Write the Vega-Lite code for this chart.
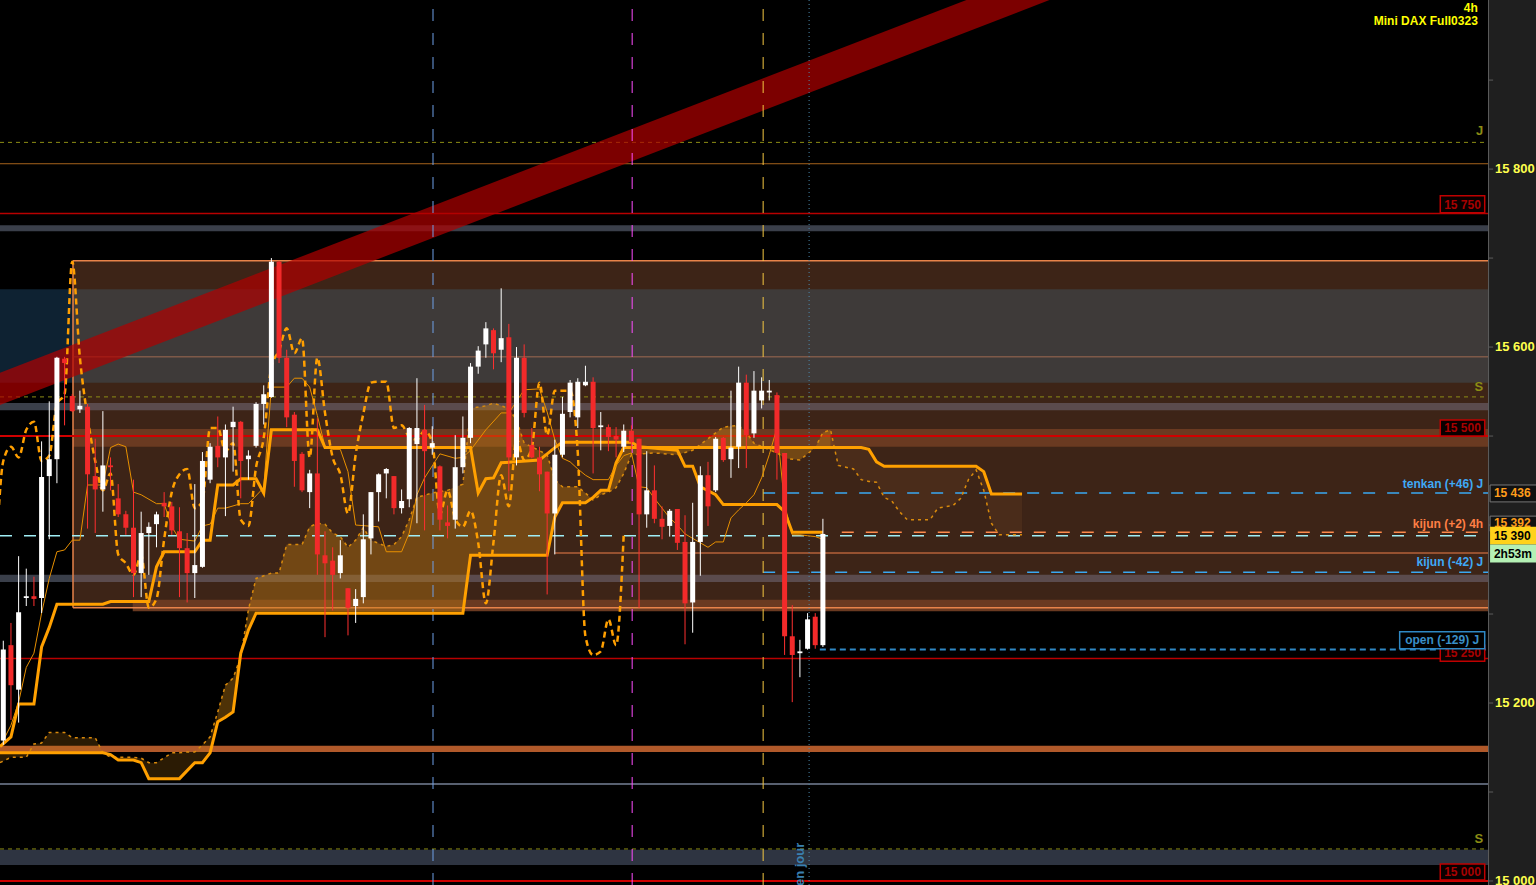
{
"$schema":"https://vega.github.io/schema/vega-lite/v6.json",
"width":1488,"height":885,"autosize":"none",
"padding":{"left":0,"top":0,"right":48,"bottom":0},
"background":"#1f1f1f",
"config":{"view":{"stroke":null,"fill":"#000000"},"font":"Liberation Sans"},
"datasets":{
"candles":[
{"i":0,"o":15158,"h":15270,"l":15153,"c":15260},
{"i":1,"o":15265,"h":15290,"l":15181,"c":15220},
{"i":2,"o":15215,"h":15365,"l":15178,"c":15302},
{"i":3,"o":15318,"h":15351,"l":15309,"c":15320},
{"i":4,"o":15320,"h":15342,"l":15309,"c":15317},
{"i":5,"o":15318,"h":15494,"l":15301,"c":15454},
{"i":6,"o":15455,"h":15539,"l":15384,"c":15474},
{"i":7,"o":15474,"h":15589,"l":15447,"c":15588},
{"i":8,"o":15587,"h":15589,"l":15512,"c":15582},
{"i":9,"o":15545,"h":15547,"l":15527,"c":15528},
{"i":10,"o":15530,"h":15551,"l":15526,"c":15534},
{"i":11,"o":15533,"h":15536,"l":15396,"c":15457},
{"i":12,"o":15455,"h":15497,"l":15391,"c":15440},
{"i":13,"o":15440,"h":15528,"l":15415,"c":15467},
{"i":14,"o":15467,"h":15476,"l":15439,"c":15465},
{"i":15,"o":15430,"h":15446,"l":15409,"c":15412},
{"i":16,"o":15412,"h":15416,"l":15389,"c":15397},
{"i":17,"o":15397,"h":15451,"l":15319,"c":15346},
{"i":18,"o":15346,"h":15415,"l":15319,"c":15391},
{"i":19,"o":15391,"h":15403,"l":15344,"c":15398},
{"i":20,"o":15401,"h":15415,"l":15375,"c":15412},
{"i":21,"o":15425,"h":15437,"l":15409,"c":15421},
{"i":22,"o":15421,"h":15426,"l":15389,"c":15394},
{"i":23,"o":15393,"h":15420,"l":15319,"c":15374},
{"i":24,"o":15374,"h":15391,"l":15313,"c":15346},
{"i":25,"o":15346,"h":15446,"l":15318,"c":15355},
{"i":26,"o":15353,"h":15482,"l":15352,"c":15472},
{"i":27,"o":15451,"h":15492,"l":15447,"c":15488},
{"i":28,"o":15489,"h":15522,"l":15465,"c":15476},
{"i":29,"o":15476,"h":15513,"l":15410,"c":15507},
{"i":30,"o":15510,"h":15533,"l":15460,"c":15516},
{"i":31,"o":15516,"h":15517,"l":15430,"c":15472},
{"i":32,"o":15474,"h":15484,"l":15451,"c":15478},
{"i":33,"o":15489,"h":15538,"l":15487,"c":15536},
{"i":34,"o":15536,"h":15557,"l":15513,"c":15547},
{"i":35,"o":15544,"h":15700,"l":15543,"c":15696},
{"i":36,"o":15696,"h":15697,"l":15582,"c":15588},
{"i":37,"o":15588,"h":15597,"l":15510,"c":15521},
{"i":38,"o":15524,"h":15527,"l":15443,"c":15472},
{"i":39,"o":15480,"h":15482,"l":15437,"c":15439},
{"i":40,"o":15437,"h":15462,"l":15419,"c":15458},
{"i":41,"o":15458,"h":15520,"l":15344,"c":15367},
{"i":42,"o":15366,"h":15393,"l":15274,"c":15357},
{"i":43,"o":15360,"h":15375,"l":15304,"c":15344},
{"i":44,"o":15346,"h":15383,"l":15340,"c":15366},
{"i":45,"o":15329,"h":15329,"l":15276,"c":15307},
{"i":46,"o":15309,"h":15328,"l":15290,"c":15317},
{"i":47,"o":15319,"h":15412,"l":15312,"c":15384},
{"i":48,"o":15385,"h":15437,"l":15367,"c":15437},
{"i":49,"o":15437,"h":15458,"l":15404,"c":15457},
{"i":50,"o":15458,"h":15464,"l":15430,"c":15463},
{"i":51,"o":15455,"h":15455,"l":15412,"c":15419},
{"i":52,"o":15419,"h":15440,"l":15413,"c":15427},
{"i":53,"o":15429,"h":15510,"l":15420,"c":15509},
{"i":54,"o":15491,"h":15565,"l":15402,"c":15509},
{"i":55,"o":15507,"h":15535,"l":15394,"c":15483},
{"i":56,"o":15487,"h":15511,"l":15479,"c":15492},
{"i":57,"o":15466,"h":15467,"l":15394,"c":15406},
{"i":58,"o":15403,"h":15422,"l":15385,"c":15399},
{"i":59,"o":15406,"h":15501,"l":15396,"c":15465},
{"i":60,"o":15465,"h":15522,"l":15458,"c":15498},
{"i":61,"o":15498,"h":15582,"l":15492,"c":15578},
{"i":62,"o":15578,"h":15601,"l":15570,"c":15596},
{"i":63,"o":15603,"h":15628,"l":15588,"c":15621},
{"i":64,"o":15619,"h":15621,"l":15575,"c":15593},
{"i":65,"o":15597,"h":15666,"l":15583,"c":15610},
{"i":66,"o":15611,"h":15626,"l":15438,"c":15476},
{"i":67,"o":15476,"h":15600,"l":15467,"c":15588},
{"i":68,"o":15588,"h":15603,"l":15521,"c":15526},
{"i":69,"o":15490,"h":15509,"l":15475,"c":15476},
{"i":70,"o":15476,"h":15488,"l":15438,"c":15457},
{"i":71,"o":15460,"h":15460,"l":15322,"c":15413},
{"i":72,"o":15413,"h":15496,"l":15367,"c":15479},
{"i":73,"o":15479,"h":15544,"l":15476,"c":15525},
{"i":74,"o":15527,"h":15563,"l":15521,"c":15560},
{"i":75,"o":15521,"h":15565,"l":15509,"c":15561},
{"i":76,"o":15557,"h":15579,"l":15556,"c":15561},
{"i":77,"o":15561,"h":15566,"l":15458,"c":15509},
{"i":78,"o":15510,"h":15527,"l":15484,"c":15512},
{"i":79,"o":15510,"h":15513,"l":15483,"c":15499},
{"i":80,"o":15500,"h":15510,"l":15476,"c":15496},
{"i":81,"o":15488,"h":15513,"l":15482,"c":15506},
{"i":82,"o":15506,"h":15512,"l":15484,"c":15493},
{"i":83,"o":15497,"h":15497,"l":15307,"c":15412},
{"i":84,"o":15412,"h":15483,"l":15397,"c":15439},
{"i":85,"o":15439,"h":15467,"l":15402,"c":15407},
{"i":86,"o":15407,"h":15421,"l":15384,"c":15398},
{"i":87,"o":15399,"h":15418,"l":15387,"c":15416},
{"i":88,"o":15418,"h":15418,"l":15372,"c":15380},
{"i":89,"o":15381,"h":15411,"l":15266,"c":15312},
{"i":90,"o":15313,"h":15425,"l":15279,"c":15381},
{"i":91,"o":15381,"h":15466,"l":15343,"c":15456},
{"i":92,"o":15456,"h":15471,"l":15399,"c":15421},
{"i":93,"o":15439,"h":15499,"l":15437,"c":15497},
{"i":94,"o":15498,"h":15499,"l":15471,"c":15473},
{"i":95,"o":15474,"h":15551,"l":15453,"c":15487},
{"i":96,"o":15488,"h":15578,"l":15464,"c":15560},
{"i":97,"o":15560,"h":15569,"l":15464,"c":15501},
{"i":98,"o":15503,"h":15573,"l":15498,"c":15551},
{"i":99,"o":15540,"h":15566,"l":15531,"c":15551},
{"i":100,"o":15549,"h":15563,"l":15540,"c":15551},
{"i":101,"o":15546,"h":15549,"l":15451,"c":15481},
{"i":102,"o":15481,"h":15481,"l":15254,"c":15275},
{"i":103,"o":15275,"h":15310,"l":15201,"c":15254},
{"i":104,"o":15256,"h":15271,"l":15229,"c":15258},
{"i":105,"o":15261,"h":15301,"l":15260,"c":15294},
{"i":106,"o":15297,"h":15301,"l":15261,"c":15265},
{"i":107,"o":15265,"h":15407,"l":15263,"c":15390}
],
"kijun":[
{"i":-0.43,"p":15151},{"i":1,"p":15162},{"i":2,"p":15199},{"i":4,"p":15199},{"i":5,"p":15263},{"i":6,"p":15285},{"i":7,"p":15311},{"i":13,"p":15311},{"i":14,"p":15314},{"i":19,"p":15314},{"i":20,"p":15353},{"i":21,"p":15370},{"i":25,"p":15370},{"i":26,"p":15383},{"i":27,"p":15383},{"i":28,"p":15445},{"i":30,"p":15445},{"i":31,"p":15452},{"i":33,"p":15452},{"i":34,"p":15436},{"i":35,"p":15507},{"i":41,"p":15507},{"i":42,"p":15487},{"i":61,"p":15487},{"i":62,"p":15436},{"i":63,"p":15452},{"i":64,"p":15453},{"i":65,"p":15470},{"i":70,"p":15473},{"i":72,"p":15487},{"i":73,"p":15493},{"i":82,"p":15493},{"i":83,"p":15488},{"i":88,"p":15484},{"i":89,"p":15466},{"i":90,"p":15466},{"i":91,"p":15443},{"i":93,"p":15434},{"i":94,"p":15423},{"i":101,"p":15423},{"i":102,"p":15415},{"i":103,"p":15392},{"i":107,"p":15392}
],
"tenkan":[
{"i":0,"p":15158},{"i":1,"p":15175},{"i":2,"p":15201},{"i":3,"p":15240},{"i":4,"p":15256},{"i":5,"p":15301},{"i":6,"p":15340},{"i":7,"p":15370},{"i":8,"p":15372},{"i":9,"p":15383},{"i":10,"p":15383},{"i":11,"p":15445},{"i":13,"p":15445},{"i":14,"p":15487},{"i":15,"p":15491},{"i":16,"p":15488},{"i":17,"p":15437},{"i":18,"p":15434},{"i":20,"p":15424},{"i":21,"p":15424},{"i":22,"p":15398},{"i":23,"p":15384},{"i":25,"p":15382},{"i":26,"p":15399},{"i":27,"p":15401},{"i":28,"p":15419},{"i":29,"p":15419},{"i":31,"p":15424},{"i":32,"p":15424},{"i":34,"p":15442},{"i":35,"p":15555},{"i":37,"p":15555},{"i":38,"p":15565},{"i":39,"p":15565},{"i":40,"p":15555},{"i":41,"p":15523},{"i":42,"p":15488},{"i":43,"p":15485},{"i":44,"p":15485},{"i":45,"p":15460},{"i":46,"p":15400},{"i":49,"p":15398},{"i":50,"p":15370},{"i":52,"p":15370},{"i":53,"p":15391},{"i":54,"p":15434},{"i":55,"p":15453},{"i":57,"p":15480},{"i":59,"p":15475},{"i":60,"p":15476},{"i":61,"p":15484},{"i":63,"p":15507},{"i":65,"p":15526},{"i":66,"p":15526},{"i":68,"p":15552},{"i":70,"p":15553},{"i":71,"p":15527},{"i":72,"p":15496},{"i":73,"p":15475},{"i":74,"p":15471},{"i":75,"p":15463},{"i":76,"p":15456},{"i":77,"p":15451},{"i":79,"p":15451},{"i":80,"p":15467},{"i":81,"p":15478},{"i":82,"p":15481},{"i":83,"p":15443},{"i":84,"p":15442},{"i":85,"p":15430},{"i":86,"p":15419},{"i":87,"p":15408},{"i":88,"p":15400},{"i":89,"p":15390},{"i":90,"p":15385},{"i":91,"p":15380},{"i":92,"p":15375},{"i":93,"p":15381},{"i":94,"p":15381},{"i":95,"p":15408},{"i":96,"p":15417},{"i":97,"p":15425},{"i":98,"p":15434},{"i":99,"p":15453},{"i":100,"p":15479},{"i":101,"p":15509},{"i":102,"p":15423},{"i":103,"p":15389},{"i":104,"p":15389},{"i":105,"p":15388},{"i":106,"p":15387},{"i":107,"p":15384}
],
"cloud":[
{"i":-0.43,"p":15133,"p2":15144},{"i":1,"p":15139,"p2":15144},{"i":3,"p":15139,"p2":15144},{"i":4,"p":15154,"p2":15144},{"i":5,"p":15155,"p2":15144},{"i":6,"p":15167,"p2":15144},{"i":8,"p":15167,"p2":15144},{"i":9,"p":15161,"p2":15144},{"i":12,"p":15161,"p2":15144},{"i":13,"p":15144,"p2":15144},{"i":14,"p":15139,"p2":15142},{"i":15,"p":15139,"p2":15136},{"i":17,"p":15139,"p2":15136},{"i":18,"p":15138,"p2":15133},{"i":19,"p":15133,"p2":15115},{"i":20,"p":15133,"p2":15115},{"i":22,"p":15144,"p2":15115},{"i":23,"p":15144,"p2":15115},{"i":24,"p":15145,"p2":15124},{"i":25,"p":15145,"p2":15133},{"i":26,"p":15153,"p2":15133},{"i":27,"p":15162,"p2":15144},{"i":28,"p":15190,"p2":15179},{"i":29,"p":15220,"p2":15184},{"i":30,"p":15228,"p2":15190},{"i":31,"p":15252,"p2":15256},{"i":32,"p":15305,"p2":15282},{"i":33,"p":15340,"p2":15301},{"i":35,"p":15346,"p2":15301},{"i":36,"p":15346,"p2":15301},{"i":37,"p":15378,"p2":15301},{"i":39,"p":15378,"p2":15301},{"i":40,"p":15398,"p2":15301},{"i":41,"p":15402,"p2":15301},{"i":42,"p":15401,"p2":15301},{"i":43,"p":15391,"p2":15301},{"i":44,"p":15387,"p2":15301},{"i":45,"p":15375,"p2":15301},{"i":46,"p":15383,"p2":15301},{"i":47,"p":15397,"p2":15301},{"i":48,"p":15383,"p2":15301},{"i":50,"p":15376,"p2":15301},{"i":51,"p":15378,"p2":15301},{"i":52,"p":15387,"p2":15301},{"i":53,"p":15406,"p2":15301},{"i":54,"p":15431,"p2":15301},{"i":56,"p":15436,"p2":15301},{"i":58,"p":15439,"p2":15301},{"i":60,"p":15446,"p2":15301},{"i":61,"p":15531,"p2":15366},{"i":63,"p":15534,"p2":15366},{"i":64,"p":15537,"p2":15366},{"i":66,"p":15531,"p2":15366},{"i":67,"p":15518,"p2":15366},{"i":68,"p":15492,"p2":15366},{"i":69,"p":15488,"p2":15366},{"i":71,"p":15479,"p2":15366},{"i":72,"p":15451,"p2":15409},{"i":73,"p":15443,"p2":15425},{"i":75,"p":15443,"p2":15425},{"i":76,"p":15436,"p2":15425},{"i":77,"p":15428,"p2":15431},{"i":78,"p":15434,"p2":15439},{"i":79,"p":15437,"p2":15439},{"i":80,"p":15442,"p2":15470},{"i":81,"p":15458,"p2":15487},{"i":82,"p":15479,"p2":15487},{"i":85,"p":15481,"p2":15487},{"i":88,"p":15479,"p2":15487},{"i":90,"p":15484,"p2":15487},{"i":94,"p":15510,"p2":15487},{"i":96,"p":15512,"p2":15487},{"i":97,"p":15504,"p2":15487},{"i":98,"p":15492,"p2":15487},{"i":101,"p":15481,"p2":15487},{"i":102,"p":15475,"p2":15487},{"i":104,"p":15473,"p2":15487},{"i":106,"p":15487,"p2":15487},{"i":107,"p":15504,"p2":15487},{"i":108,"p":15507,"p2":15487},{"i":109,"p":15467,"p2":15487},{"i":110,"p":15465,"p2":15487},{"i":111,"p":15463,"p2":15487},{"i":112,"p":15451,"p2":15487},{"i":113,"p":15449,"p2":15485},{"i":114,"p":15448,"p2":15471},{"i":115,"p":15431,"p2":15466},{"i":116,"p":15427,"p2":15466},{"i":117,"p":15415,"p2":15466},{"i":118,"p":15406,"p2":15466},{"i":121,"p":15406,"p2":15466},{"i":122,"p":15419,"p2":15466},{"i":124,"p":15422,"p2":15466},{"i":125,"p":15430,"p2":15466},{"i":126,"p":15451,"p2":15466},{"i":127,"p":15462,"p2":15466},{"i":128,"p":15439,"p2":15460},{"i":129,"p":15402,"p2":15435},{"i":130,"p":15389,"p2":15435},{"i":133,"p":15389,"p2":15435}
],
"chikou":[
{"i":-1,"p":15355},{"i":0,"p":15472},{"i":1,"p":15488},{"i":2,"p":15476},{"i":3,"p":15507},{"i":4,"p":15516},{"i":5,"p":15472},{"i":6,"p":15478},{"i":7,"p":15536},{"i":8,"p":15547},{"i":9,"p":15696},{"i":10,"p":15588},{"i":11,"p":15521},{"i":12,"p":15472},{"i":13,"p":15439},{"i":14,"p":15458},{"i":15,"p":15367},{"i":16,"p":15357},{"i":17,"p":15344},{"i":18,"p":15366},{"i":19,"p":15307},{"i":20,"p":15317},{"i":21,"p":15384},{"i":22,"p":15437},{"i":23,"p":15457},{"i":24,"p":15463},{"i":25,"p":15419},{"i":26,"p":15427},{"i":27,"p":15509},{"i":28,"p":15509},{"i":29,"p":15483},{"i":30,"p":15492},{"i":31,"p":15406},{"i":32,"p":15399},{"i":33,"p":15465},{"i":34,"p":15498},{"i":35,"p":15578},{"i":36,"p":15596},{"i":37,"p":15621},{"i":38,"p":15593},{"i":39,"p":15610},{"i":40,"p":15476},{"i":41,"p":15588},{"i":42,"p":15526},{"i":43,"p":15476},{"i":44,"p":15457},{"i":45,"p":15413},{"i":46,"p":15479},{"i":47,"p":15525},{"i":48,"p":15560},{"i":49,"p":15561},{"i":50,"p":15561},{"i":51,"p":15509},{"i":52,"p":15512},{"i":53,"p":15499},{"i":54,"p":15496},{"i":55,"p":15506},{"i":56,"p":15493},{"i":57,"p":15412},{"i":58,"p":15439},{"i":59,"p":15407},{"i":60,"p":15398},{"i":61,"p":15416},{"i":62,"p":15380},{"i":63,"p":15312},{"i":64,"p":15381},{"i":65,"p":15456},{"i":66,"p":15421},{"i":67,"p":15497},{"i":68,"p":15473},{"i":69,"p":15487},{"i":70,"p":15560},{"i":71,"p":15501},{"i":72,"p":15551},{"i":73,"p":15551},{"i":74,"p":15551},{"i":75,"p":15481},{"i":76,"p":15275},{"i":77,"p":15254},{"i":78,"p":15258},{"i":79,"p":15294},{"i":80,"p":15265},{"i":81,"p":15390}
],
"ticks":[
{"i":193.83,"i2":194.5,"p":15000},{"i":193.83,"i2":194.5,"p":15100},{"i":193.83,"i2":194.5,"p":15200},{"i":193.83,"i2":194.5,"p":15300},{"i":193.83,"i2":194.5,"p":15400},{"i":193.83,"i2":194.5,"p":15500},{"i":193.83,"i2":194.5,"p":15600},{"i":193.83,"i2":194.5,"p":15700},{"i":193.83,"i2":194.5,"p":15800},{"i":193.83,"i2":194.5,"p":15900}
],
"ticklabels":[
{"i":194.75,"p":15000,"t":"15 000"},{"i":194.75,"p":15200,"t":"15 200"},{"i":194.75,"p":15600,"t":"15 600"},{"i":194.75,"p":15800,"t":"15 800"}
]
},
"encoding":{
"x":{"field":"i","type":"quantitative","scale":{"domain":[-0.43,193.83],"nice":false,"zero":false,"padding":0},"axis":null},
"y":{"field":"p","type":"quantitative","scale":{"domain":[14995.5,15990],"nice":false,"zero":false},"axis":null}
},
"layer":[
{"data":{"values":[{"i":9.1,"i2":193.83,"p":15307,"p2":15697}]},"mark":{"type":"rect","color":"#3d2417"},"encoding":{"x2":{"field":"i2"},"y2":{"field":"p2"}}},
{"data":{"values":[{"i":9.1,"i2":193.83,"p":15488,"p2":15508},{"i":16.9,"i2":193.83,"p":15303,"p2":15316}]},"mark":{"type":"rect","color":"#6a3a21"},"encoding":{"x2":{"field":"i2"},"y2":{"field":"p2"}}},
{"data":{"values":[{"i":-0.43,"i2":9.1,"p":15560,"p2":15665}]},"mark":{"type":"rect","color":"#0e2232"},"encoding":{"x2":{"field":"i2"},"y2":{"field":"p2"}}},
{"data":{"values":[{"i":9.1,"i2":193.83,"p":15560,"p2":15665}]},"mark":{"type":"rect","color":"#3e3a39"},"encoding":{"x2":{"field":"i2"},"y2":{"field":"p2"}}},
{"data":{"values":[{"i":-0.43,"i2":9.1,"p":15529,"p2":15537},{"i":-0.43,"i2":9.1,"p":15336,"p2":15344},{"i":-0.43,"i2":193.83,"p":15730,"p2":15737}]},"mark":{"type":"rect","color":"#3a3f4a"},"encoding":{"x2":{"field":"i2"},"y2":{"field":"p2"}}},
{"data":{"values":[{"i":9.1,"i2":193.83,"p":15529,"p2":15537},{"i":9.1,"i2":193.83,"p":15336,"p2":15344}]},"mark":{"type":"rect","color":"#5b4b4d"},"encoding":{"x2":{"field":"i2"},"y2":{"field":"p2"}}},
{"data":{"values":[{"i":-0.43,"i2":193.83,"p":15018,"p2":15035}]},"mark":{"type":"rect","color":"#2e3441"},"encoding":{"x2":{"field":"i2"},"y2":{"field":"p2"}}},
{"data":{"values":[{"i":-0.43,"i2":193.83,"p":15145,"p2":15152}]},"mark":{"type":"rect","color":"#b0592a"},"encoding":{"x2":{"field":"i2"},"y2":{"field":"p2"}}},
{"data":{"values":[{"i":9.1,"i2":193.83,"p":15697},{"i":9.1,"i2":193.83,"p":15307}]},"mark":{"type":"rule","color":"#e8834a","strokeWidth":1.5},"encoding":{"x2":{"field":"i2"}}},
{"data":{"values":[{"i":9.1,"p":15307,"p2":15697}]},"mark":{"type":"rule","color":"#e8834a","strokeWidth":1.5},"encoding":{"y2":{"field":"p2"}}},
{"data":{"values":[{"i":-0.43,"i2":193.83,"p":15830},{"i":-0.43,"i2":193.83,"p":15544},{"i":-0.43,"i2":193.83,"p":15036}]},"mark":{"type":"rule","color":"#8c8c14","strokeWidth":1,"strokeDash":[4,4]},"encoding":{"x2":{"field":"i2"}}},
{"data":{"values":[{"i":-0.43,"i2":193.83,"p":15806}]},"mark":{"type":"rule","color":"#a5621c","strokeWidth":1},"encoding":{"x2":{"field":"i2"}}},
{"data":{"values":[{"i":-0.43,"i2":193.83,"p":15750},{"i":-0.43,"i2":193.83,"p":15250}]},"mark":{"type":"rule","color":"#b80000","strokeWidth":1.5},"encoding":{"x2":{"field":"i2"}}},
{"data":{"values":[{"i":-0.43,"i2":193.83,"p":15500},{"i":-0.43,"i2":193.83,"p":15000}]},"mark":{"type":"rule","color":"#d00000","strokeWidth":2},"encoding":{"x2":{"field":"i2"}}},
{"data":{"values":[{"i":9.1,"i2":193.83,"p":15589}]},"mark":{"type":"rule","color":"#a06a52","strokeWidth":1},"encoding":{"x2":{"field":"i2"}}},
{"data":{"values":[{"i":72,"i2":193.83,"p":15368.5}]},"mark":{"type":"rule","color":"#b5603a","strokeWidth":1.5},"encoding":{"x2":{"field":"i2"}}},
{"data":{"values":[{"i":-0.43,"i2":193.83,"p":15109}]},"mark":{"type":"rule","color":"#586070","strokeWidth":2},"encoding":{"x2":{"field":"i2"}}},
{"data":{"name":"cloud"},"transform":[{"filter":"datum.i <= 28"}],"mark":{"type":"area","color":"#c27c12","opacity":0.22},"encoding":{"y2":{"field":"p2"}}},
{"data":{"name":"cloud"},"transform":[{"filter":"datum.i >= 28 && datum.i <= 108"}],"mark":{"type":"area","color":"#c27c12","opacity":0.4},"encoding":{"y2":{"field":"p2"}}},
{"data":{"name":"cloud"},"transform":[{"filter":"datum.i >= 108"}],"mark":{"type":"area","color":"#b06a30","opacity":0.12},"encoding":{"y2":{"field":"p2"}}},
{"data":{"values":[{"i":-0.43,"p":15571,"p2":15535},{"i":143.2,"p":16048,"p2":16012}]},"mark":{"type":"area","color":"#b00000","opacity":0.7,"clip":true},"encoding":{"y2":{"field":"p2"}}},
{"data":{"values":[{"i":-0.43,"i2":193.83,"p":15388}]},"mark":{"type":"rule","color":"#a0eef6","strokeWidth":1.5,"strokeDash":[12,12]},"encoding":{"x2":{"field":"i2"}}},
{"data":{"values":[{"i":99.2,"i2":193.83,"p":15436},{"i":99.2,"i2":193.83,"p":15347}]},"mark":{"type":"rule","color":"#3aa8f2","strokeWidth":1.5,"strokeDash":[12,12]},"encoding":{"x2":{"field":"i2"}}},
{"data":{"values":[{"i":107.9,"i2":193.83,"p":15392}]},"mark":{"type":"rule","color":"#ff8a4c","strokeWidth":1.5,"strokeDash":[12,12],"strokeDashOffset":12},"encoding":{"x2":{"field":"i2"}}},
{"data":{"values":[{"i":106.6,"i2":193.83,"p":15260}]},"mark":{"type":"rule","color":"#2f88c4","strokeWidth":2,"strokeDash":[6,4]},"encoding":{"x2":{"field":"i2"}}},
{"data":{"values":[{"i":56.1,"p":14995.5,"p2":15990}]},"mark":{"type":"rule","color":"#6fa0e8","strokeWidth":1,"strokeDash":[12,12]},"encoding":{"y2":{"field":"p2"}}},
{"data":{"values":[{"i":82.1,"p":14995.5,"p2":15990}]},"mark":{"type":"rule","color":"#ff4dff","strokeWidth":1,"strokeDash":[12,12]},"encoding":{"y2":{"field":"p2"}}},
{"data":{"values":[{"i":99.2,"p":14995.5,"p2":15990}]},"mark":{"type":"rule","color":"#f5c842","strokeWidth":1,"strokeDash":[12,12]},"encoding":{"y2":{"field":"p2"}}},
{"data":{"values":[{"i":105.2,"p":14995.5,"p2":15990}]},"mark":{"type":"rule","color":"#4a86aa","strokeWidth":1,"strokeDash":[1,3]},"encoding":{"y2":{"field":"p2"}}},
{"data":{"name":"cloud"},"mark":{"type":"line","color":"#d98a0c","strokeWidth":1.5,"strokeDash":[3,4],"clip":true},"encoding":{}},
{"data":{"name":"cloud"},"mark":{"type":"line","color":"#ffa000","strokeWidth":3,"clip":true},"encoding":{"y":{"field":"p2","type":"quantitative","scale":{"domain":[14995.5,15990],"nice":false,"zero":false},"axis":null}}},
{"data":{"name":"tenkan"},"mark":{"type":"line","color":"#e89000","strokeWidth":1,"clip":true},"encoding":{}},
{"data":{"name":"kijun"},"mark":{"type":"line","color":"#ffa000","strokeWidth":3,"clip":true},"encoding":{}},
{"data":{"name":"chikou"},"mark":{"type":"line","color":"#ff9f00","strokeWidth":2.5,"strokeDash":[6,4],"interpolate":"monotone","clip":true},"encoding":{}},
{"data":{"name":"candles"},"mark":{"type":"rule","strokeWidth":1},"encoding":{"y":{"field":"l","type":"quantitative","scale":{"domain":[14995.5,15990],"nice":false,"zero":false},"axis":null},"y2":{"field":"h"},"color":{"condition":{"test":"datum.c >= datum.o","value":"#ffffff"},"value":"#ff3030"}}},
{"data":{"name":"candles"},"mark":{"type":"bar","size":5},"encoding":{"y":{"field":"o","type":"quantitative","scale":{"domain":[14995.5,15990],"nice":false,"zero":false},"axis":null},"y2":{"field":"c"},"color":{"condition":{"test":"datum.c >= datum.o","value":"#ffffff"},"value":"#f22a2a"}}},
{"data":{"values":[{"i":193.9,"p":14995.5,"p2":15990}]},"mark":{"type":"rule","color":"#5c5c5c","strokeWidth":1},"encoding":{"y2":{"field":"p2"}}},
{"data":{"name":"ticks"},"mark":{"type":"rule","color":"#5c5c5c","strokeWidth":1},"encoding":{"x2":{"field":"i2"}}},
{"data":{"name":"ticklabels"},"mark":{"type":"text","align":"left","baseline":"middle","color":"#ffff4d","fontSize":13,"fontWeight":"bold"},"encoding":{"text":{"field":"t"}}},
{"data":{"values":[{"i":193.2,"p":15446,"t":"tenkan (+46) J"},{"i":193.2,"p":15358,"t":"kijun (-42) J"}]},"mark":{"type":"text","align":"right","baseline":"middle","color":"#3fa9f5","fontSize":12,"fontWeight":"bold"},"encoding":{"text":{"field":"t"}}},
{"data":{"values":[{"i":193.2,"p":15401,"t":"kijun (+2) 4h"}]},"mark":{"type":"text","align":"right","baseline":"middle","color":"#ff7f45","fontSize":12,"fontWeight":"bold"},"encoding":{"text":{"field":"t"}}},
{"data":{"values":[{"i":193.2,"p":15843,"t":"J"},{"i":193.2,"p":15555,"t":"S"},{"i":193.2,"p":15047,"t":"S"}]},"mark":{"type":"text","align":"right","baseline":"middle","color":"#8c8c14","fontSize":13,"fontWeight":"bold"},"encoding":{"text":{"field":"t"}}},
{"data":{"values":[{"i":192.5,"p":15981,"t":"4h"},{"i":192.5,"p":15966,"t":"Mini DAX Full0323"}]},"mark":{"type":"text","align":"right","baseline":"middle","color":"#ffff00","fontSize":12,"fontWeight":"bold"},"encoding":{"text":{"field":"t"}}},
{"data":{"values":[{"i":104.0,"p":15043,"t":"en jour"}]},"mark":{"type":"text","angle":270,"align":"right","baseline":"middle","color":"#3a80b0","fontSize":13,"fontWeight":"bold"},"encoding":{"text":{"field":"t"}}},
{"data":{"values":[{"i":187.6,"i2":193.4,"p":15751,"p2":15770},{"i":187.6,"i2":193.4,"p":15500,"p2":15518},{"i":187.6,"i2":193.4,"p":15247,"p2":15265},{"i":187.6,"i2":193.4,"p":15001,"p2":15019}]},"mark":{"type":"rect","fill":"#0a0000","stroke":"#c00000","strokeWidth":1.5},"encoding":{"x2":{"field":"i2"},"y2":{"field":"p2"}}},
{"data":{"values":[{"i":190.5,"p":15760,"t":"15 750"},{"i":190.5,"p":15509,"t":"15 500"},{"i":190.5,"p":15256,"t":"15 250"},{"i":190.5,"p":15010,"t":"15 000"}]},"mark":{"type":"text","align":"center","baseline":"middle","color":"#a80000","fontSize":12,"fontWeight":"bold"},"encoding":{"text":{"field":"t"}}},
{"data":{"values":[{"i":182.3,"i2":193.4,"p":15261,"p2":15280}]},"mark":{"type":"rect","fill":"#000000","stroke":"#2f88c4","strokeWidth":1.5},"encoding":{"x2":{"field":"i2"},"y2":{"field":"p2"}}},
{"data":{"values":[{"i":187.85,"p":15270.5,"t":"open (-129) J"}]},"mark":{"type":"text","align":"center","baseline":"middle","color":"#3a8fc8","fontSize":12,"fontWeight":"bold"},"encoding":{"text":{"field":"t"}}},
{"data":{"values":[{"i":194.1,"i2":200.3,"p":15426,"p2":15445},{"i":194.1,"i2":200.3,"p":15393,"p2":15410}]},"mark":{"type":"rect","fill":"#111111","stroke":"#777777","strokeWidth":1},"encoding":{"x2":{"field":"i2"},"y2":{"field":"p2"}}},
{"data":{"values":[{"i":194.6,"p":15435.5,"t":"15 436"},{"i":194.6,"p":15402,"t":"15 392"}]},"mark":{"type":"text","align":"left","baseline":"middle","color":"#ff9d1a","fontSize":12,"fontWeight":"bold"},"encoding":{"text":{"field":"t"}}},
{"data":{"values":[{"i":194.1,"i2":200.3,"p":15378,"p2":15398}]},"mark":{"type":"rect","fill":"#ffd21a"},"encoding":{"x2":{"field":"i2"},"y2":{"field":"p2"}}},
{"data":{"values":[{"i":194.1,"i2":200.3,"p":15358,"p2":15378}]},"mark":{"type":"rect","fill":"#b4f0b4"},"encoding":{"x2":{"field":"i2"},"y2":{"field":"p2"}}},
{"data":{"values":[{"i":194.6,"p":15388,"t":"15 390"},{"i":194.6,"p":15368,"t":"2h53m"}]},"mark":{"type":"text","align":"left","baseline":"middle","color":"#000000","fontSize":12,"fontWeight":"bold"},"encoding":{"text":{"field":"t"}}}
]
}
